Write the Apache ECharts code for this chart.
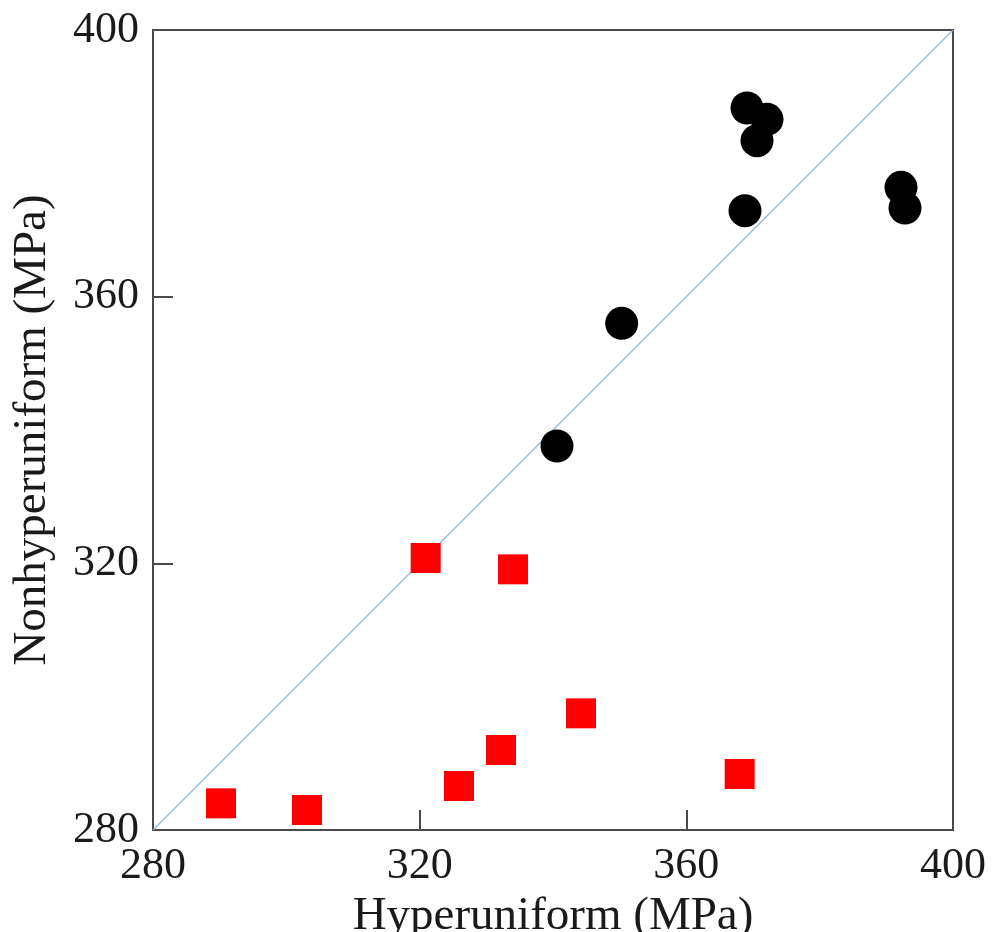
<!DOCTYPE html>
<html>
<head>
<meta charset="utf-8">
<script src="https://cdn.jsdelivr.net/npm/echarts@6/dist/echarts.min.js"></script>
<style>
  html, body { margin: 0; padding: 0; background: #ffffff; }
  #chart { width: 995px; height: 932px; }
</style>
</head>
<body>
<div id="chart"></div>
<script>
// Strength comparison: hyperuniform vs nonhyperuniform structures (MPa)
const xTicks = [280, 320, 360, 400];
const yTicks = [280, 320, 360, 400];

// Black circles
const circleX = [369.1, 372.1, 370.6, 368.8, 392.2, 392.8, 350.3, 340.6];
const circleY = [388.3, 386.6, 383.4, 372.9, 376.4, 373.3, 356.0, 337.6];

// Red squares
const squareX = [320.9, 334.0, 344.2, 332.2, 325.9, 368.0, 290.2, 303.1];
const squareY = [320.8, 319.1, 297.5, 292.0, 286.6, 288.4, 284.0, 283.0];

// Reference line y = x
const diagX = [280, 400];
const diagY = [280, 400];

const pairs = (xs, ys) => xs.map((x, i) => [x, ys[i]]);

const serif = '"Liberation Serif", "DejaVu Serif", serif';
const axisColor = '#4a4a4a';

const chart = echarts.init(document.getElementById('chart'), null, { renderer: 'canvas' });

const axisCommon = {
  type: 'value',
  min: 280,
  max: 400,
  interval: 40,
  nameLocation: 'middle',
  nameTextStyle: { fontFamily: serif, fontSize: 47, color: '#1a1a1a' },
  axisLine: { show: true, onZero: false, lineStyle: { color: axisColor, width: 2 } },
  axisTick: { show: true, inside: true, length: 20, lineStyle: { color: axisColor, width: 2 } },
  axisLabel: { fontFamily: serif, fontSize: 44, color: '#1a1a1a' },
  splitLine: { show: false }
};

chart.setOption({
  animation: false,
  backgroundColor: '#ffffff',
  grid: {
    left: 153, top: 30, right: 42, bottom: 102,
    containLabel: false,
    outerBoundsMode: 'none',
    show: true, borderColor: axisColor, borderWidth: 2, backgroundColor: 'transparent'
  },
  xAxis: Object.assign({}, axisCommon, {
    name: 'Hyperuniform (MPa)',
    nameGap: 57,
    axisLabel: Object.assign({}, axisCommon.axisLabel, {
      margin: 14,
      formatter: v => xTicks.includes(v) ? String(v) : ''
    })
  }),
  yAxis: Object.assign({}, axisCommon, {
    name: 'Nonhyperuniform (MPa)',
    nameGap: 97,
    axisLabel: Object.assign({}, axisCommon.axisLabel, {
      margin: 14,
      formatter: v => yTicks.includes(v) ? String(v) : ''
    })
  }),
  series: [
    {
      type: 'line',
      data: pairs(diagX, diagY),
      symbol: 'none',
      lineStyle: { color: '#8fb8dc', width: 1.2 },
      z: 1
    },
    {
      type: 'scatter',
      data: pairs(circleX, circleY),
      symbol: 'circle',
      symbolSize: 33,
      itemStyle: { color: '#000000', opacity: 1 },
      z: 3
    },
    {
      type: 'scatter',
      data: pairs(squareX, squareY),
      symbol: 'rect',
      symbolSize: 30,
      itemStyle: { color: '#ff0000', opacity: 1 },
      z: 3
    }
  ]
});
</script>
</body>
</html>
